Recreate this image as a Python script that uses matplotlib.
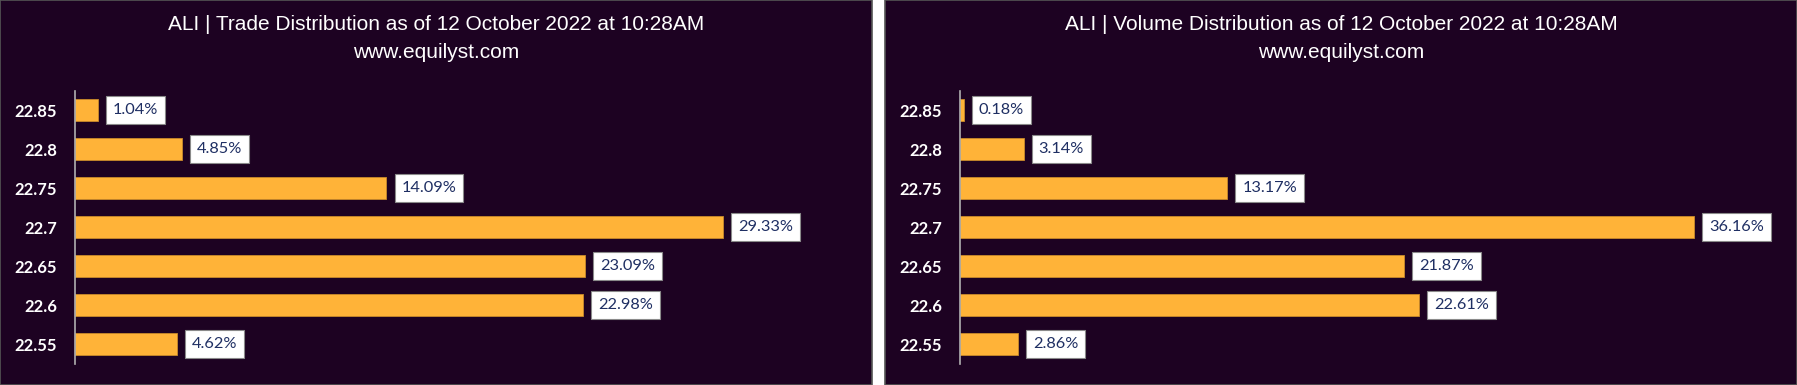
import matplotlib.pyplot as plt
from matplotlib.patches import Rectangle

prices = ["22.85", "22.8", "22.75", "22.7", "22.65", "22.6", "22.55"]
trade_pct = [1.04, 4.85, 14.09, 29.33, 23.09, 22.98, 4.62]
volume_pct = [0.18, 3.14, 13.17, 36.16, 21.87, 22.61, 2.86]

title_trade = "ALI | Trade Distribution as of 12 October 2022 at 10:28AM"
title_volume = "ALI | Volume Distribution as of 12 October 2022 at 10:28AM"
site = "www.equilyst.com"

bg = "#1d0222"
bar_color = "#ffb338"
label_color = "#1f2f63"

W, H = 1797, 385
fig = plt.figure(figsize=(W / 100, H / 100), dpi=100, facecolor="white")

# panel backgrounds (two charts side by side, white gap between)
panels = [(0, 872), (885, 1797)]
for x0, x1 in panels:
    fig.patches.append(Rectangle((x0 / W, 0), (x1 - x0) / W, 1, transform=fig.transFigure,
                                 facecolor=bg, edgecolor="#555555", linewidth=1.2, zorder=-5))

title_font = ["Liberation Sans Narrow", "Liberation Sans", "DejaVu Sans"]


def draw(ax, values, xmax, title, cx):
    ax.set_facecolor("none")
    y = range(len(prices))
    ax.barh(y, values, height=0.56, color=bar_color, edgecolor="#c98a2a", linewidth=0.6)
    ax.set_ylim(len(prices) - 0.5, -0.5)
    ax.set_xlim(0, xmax)
    ax.set_yticks(list(y))
    ax.set_yticklabels(prices, fontsize=12, fontweight="bold", color="white", family=["Lato", "DejaVu Sans"])
    ax.tick_params(axis="y", length=0, pad=13)
    ax.set_xticks([])
    for s in ["top", "right", "bottom"]:
        ax.spines[s].set_visible(False)
    ax.spines["left"].set_color("#b0b0b0")
    ax.spines["left"].set_linewidth(1.2)
    for i, v in enumerate(values):
        ax.annotate(f"{v:.2f}%", xy=(v, i), xytext=(15, 0), textcoords="offset pixels",
                    va="center", ha="left", fontsize=11.8, color=label_color,
                    family=["Lato", "DejaVu Sans"],
                    bbox=dict(boxstyle="square,pad=0.42", facecolor="white", edgecolor="#8a8a8a", linewidth=0.8))
    fig.text(cx / W, 1 - 24 / H, title, ha="center", va="center", color="white", fontsize=15,
             family=title_font)
    fig.text(cx / W, 1 - 53 / H, site, ha="center", va="center", color="white", fontsize=15,
             family=title_font)


bottom = 1 - 363.5 / H
height = (363.5 - 90.5) / H

ax1 = fig.add_axes([75 / W, bottom, (35 * 22.1) / W, height])
draw(ax1, trade_pct, 35, title_trade, 436)

ax2 = fig.add_axes([960 / W, bottom, (40 * 20.3) / W, height])
draw(ax2, volume_pct, 40, title_volume, 1341)

fig.savefig("out.png", dpi=100, facecolor="white")
